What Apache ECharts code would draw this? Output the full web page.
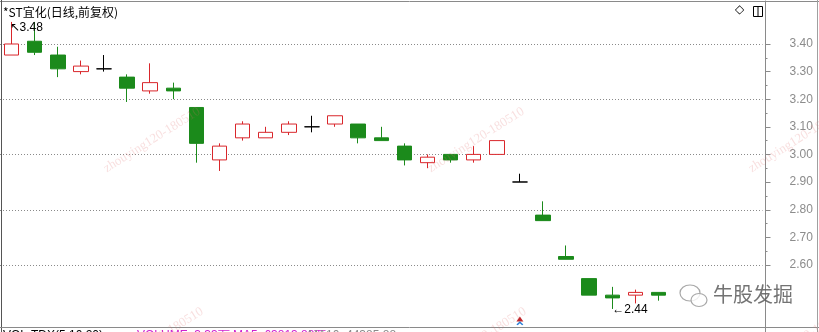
<!DOCTYPE html>
<html><head><meta charset="utf-8">
<script src="https://cdn.jsdelivr.net/npm/echarts@6/dist/echarts.min.js"></script>
<style>html,body{margin:0;padding:0;background:#fff;}#c{width:819px;height:332px;}</style>
</head><body><div id="c"></div>
<script>
// 33 daily slots, 29 traded so far
var categories = ['1','2','3','4','5','6','7','8','9','10','11','12','13','14','15','16','17','18','19','20','21','22','23','24','25','26','27','28','29','30','31','32','33'];
var opens  = [3.36,3.41,3.36,3.30,3.31,3.28,3.23,3.24,3.17,2.98,3.06,3.06,3.08,3.10,3.11,3.11,3.06,3.03,2.97,3.00,2.98,3.00,2.90,2.78,2.63,2.55,2.49,2.49,2.50];
var closes = [3.40,3.37,3.31,3.32,3.31,3.24,3.26,3.23,3.04,3.03,3.11,3.08,3.11,3.10,3.14,3.06,3.05,2.98,2.99,2.98,3.00,3.05,2.90,2.76,2.62,2.49,2.48,2.50,2.49];
var lows   = [3.36,3.36,3.28,3.29,3.30,3.19,3.22,3.20,2.97,2.94,3.05,3.06,3.07,3.08,3.10,3.04,3.05,2.96,2.95,2.97,2.97,3.00,2.90,2.76,2.62,2.49,2.44,2.46,2.47];
var highs  = [3.48,3.48,3.39,3.34,3.36,3.29,3.33,3.26,3.17,3.04,3.12,3.10,3.12,3.14,3.14,3.11,3.10,3.04,3.00,3.00,3.03,3.05,2.93,2.83,2.67,2.55,2.52,2.51,2.50];
var title = '*ST宜化(日线,前复权)';
var maxLabel = '3.48', minLabel = '2.44';

var kdata = opens.map(function(o,i){ return [o, closes[i], lows[i], highs[i]]; });
var iMax = highs.indexOf(Math.max.apply(null, highs));
var iMin = lows.indexOf(Math.min.apply(null, lows));

var wm = 'zhouying120-180510';
var wmStyle = {fill:'rgba(225,110,110,0.22)', font:'13px "Liberation Serif"', align:'center', verticalAlign:'middle'};
function wmText(x,y){ return {type:'text', x:x, y:y, rotation:0.56, z:50, silent:true, style:Object.assign({text:wm}, wmStyle)}; }

var chart = echarts.init(document.getElementById('c'), null, {renderer:'canvas'});
chart.setOption({
  animation:false,
  backgroundColor:'#fff',
  grid:[
    {left:-1, top:1, width:763.5, height:331},
    {left:-1, top:44, width:763.5, height:221}
  ],
  xAxis:[
    {type:'category', data:categories, boundaryGap:true, show:false, gridIndex:0},
    {type:'category', data:['a'], show:false, gridIndex:1}
  ],
  yAxis:[
    {type:'value', gridIndex:0, position:'right', offset:3, min:2.3565, max:3.5558,
     axisLine:{show:true, onZero:false, lineStyle:{color:'#8a8a8a', width:1}},
     axisTick:{show:false}, axisLabel:{show:false}, splitLine:{show:false}},
    {type:'value', gridIndex:1, position:'right', offset:3, min:2.6, max:3.4, interval:0.1,
     axisLine:{show:false, onZero:false},
     axisTick:{show:true, length:5, lineStyle:{color:'#8a8a8a'}},
     minorTick:{show:true, splitNumber:2, length:2, lineStyle:{color:'#8a8a8a'}},
     splitLine:{show:false}, minorSplitLine:{show:false},
     axisLabel:{show:true, margin:24, color:'#8c8c8c', fontSize:12, fontFamily:'Liberation Sans',
       formatter:function(v){ return v.toFixed(2); }}},
    {type:'value', gridIndex:1, position:'left', min:2.6, max:3.4, interval:0.2,
     axisLine:{show:false, onZero:false}, axisTick:{show:false}, axisLabel:{show:false},
     splitLine:{show:true, lineStyle:{color:'#8a8a8a', type:[1,2], width:1}}}
  ],
  series:[{
    type:'candlestick', xAxisIndex:0, yAxisIndex:0, data:kdata, barWidth:15,
    itemStyle:{color:'#ffffff', color0:'#1b8a1b', borderColor:'#d9262b', borderColor0:'#1b8a1b', borderColorDoji:'#000000', borderWidth:1},
    markPoint:{silent:true, data:[
      {coord:[iMax, highs[iMax]], symbolSize:0, label:{show:true, formatter:'↖' + maxLabel, position:'right', distance:0, offset:[-2,6], color:'#000', fontSize:12, fontFamily:'Liberation Sans'}},
      {coord:[iMin, lows[iMin]], symbolSize:0, label:{show:true, formatter:'←' + minLabel, position:'right', distance:0, offset:[0,1], color:'#000', fontSize:12, fontFamily:'Liberation Sans'}},
      {coord:[22, 2.404], symbol:'triangle', symbolSize:[7,5], itemStyle:{color:'#c0282d'}, label:{show:false}},
      {coord:[22, 2.388], symbol:'path://M0,4L4,0L8,4L6.5,5L4,2.5L1.5,5Z', symbolSize:[7,4], itemStyle:{color:'#2b7fd6'}, label:{show:false}}
    ]}
  }],
  graphic:[
    {type:'line', shape:{x1:0,y1:1.5,x2:819,y2:1.5}, style:{stroke:'#8a8a8a', lineWidth:1}, silent:true},
    {type:'line', shape:{x1:1.5,y1:0,x2:1.5,y2:332}, style:{stroke:'#555', lineWidth:1}, silent:true},
    {type:'line', shape:{x1:0,y1:327.5,x2:819,y2:327.5}, style:{stroke:'#8a8a8a', lineWidth:1}, silent:true},
    {type:'line', shape:{x1:817.5,y1:0,x2:817.5,y2:332}, style:{stroke:'#a0a0a0', lineWidth:1}, silent:true},
    {type:'text', left:3, top:6, style:{text:title, fill:'#000', font:'12px "Noto Sans CJK SC"'}},
    {type:'text', left:735, top:4, style:{text:'◇', fill:'#000', font:'12px "DejaVu Sans"'}},
    {type:'rect', shape:{x:753.5,y:6.5,width:9,height:10}, style:{fill:'none', stroke:'#000', lineWidth:1}},
    {type:'line', shape:{x1:758,y1:6.5,x2:758,y2:16.5}, style:{stroke:'#000', lineWidth:1}},
    // logo
    {type:'ellipse', shape:{cx:690,cy:293,rx:10,ry:8}, style:{fill:'rgba(255,255,255,0.6)', stroke:'#a8a8a8', lineWidth:1.2}, z:60},
    {type:'ellipse', shape:{cx:699,cy:300,rx:8,ry:6.5}, style:{fill:'rgba(255,255,255,0.8)', stroke:'#a8a8a8', lineWidth:1.2}, z:61},
    {type:'text', left:713, top:284, z:62, style:{text:'牛股发掘', fill:'rgba(90,90,90,0.85)', font:'20px "Noto Sans CJK SC"'}},
    // clipped volume header at the bottom
    {type:'text', left:3, top:330, style:{text:'VOL-TDX(5,10,20)', fill:'#000', font:'12px "Liberation Sans"'}},
    {type:'text', left:137, top:330, style:{text:'VOLUME: 3.33万 MA5: 63813.88万', fill:'#d020d0', font:'12px "Liberation Sans"'}},
    {type:'text', left:308, top:330, style:{text:'MA10: 44385.88', fill:'#8a8a8a', font:'12px "Liberation Sans"'}},
    wmText(152,140), wmText(476,140), wmText(797,140),
    wmText(155,340), wmText(478,340), wmText(800,340)
  ]
});
</script></body></html>
